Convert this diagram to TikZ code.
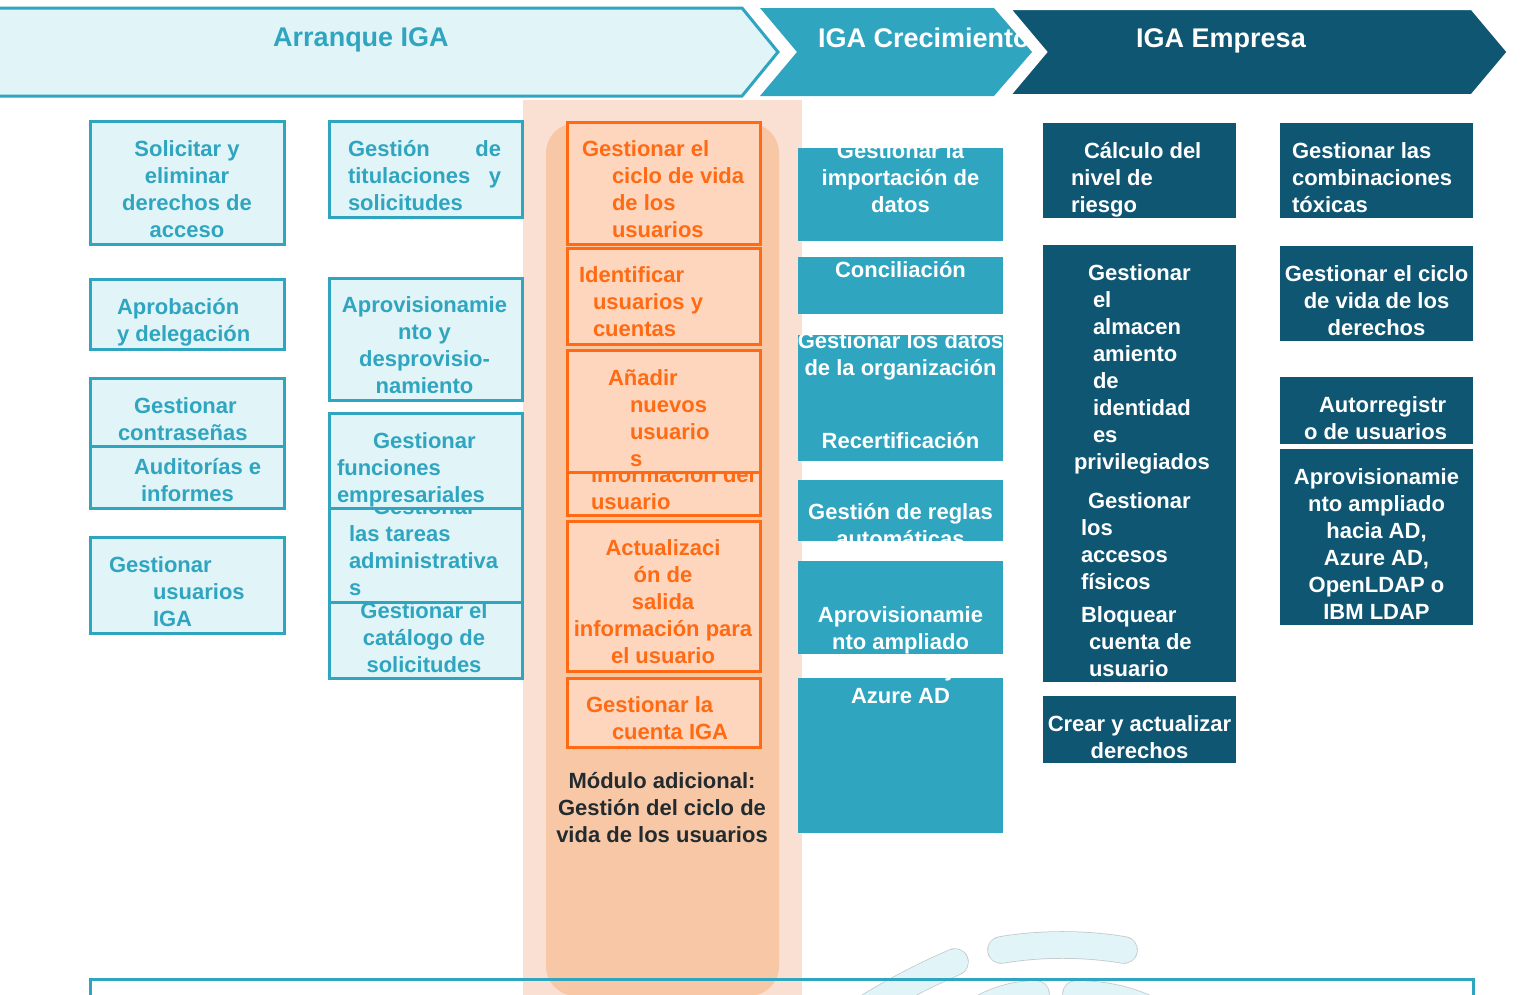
\documentclass[tikz,border=0pt]{standalone}
\usepackage{fontspec}
\setmainfont{Liberation Sans}
\definecolor{tealc}{HTML}{2FA5C0}
\definecolor{lightbg}{HTML}{E1F4F8}
\definecolor{darkc}{HTML}{0F5673}
\definecolor{orc}{HTML}{FF6A13}
\definecolor{orbox}{HTML}{FDD6BD}
\definecolor{orout}{HTML}{FADFD3}
\definecolor{orin}{HTML}{F8C8A6}
\definecolor{modtxt}{HTML}{232B2F}
\definecolor{decoedge}{HTML}{C3C7C9}
\tikzset{
  lbox/.style={fill=lightbg, draw=tealc, line width=3pt},
  obox/.style={fill=orbox, draw=orc, line width=3pt},
  tbox/.style={fill=tealc},
  dbox/.style={fill=darkc},
  txt/.style={inner sep=0pt, outer sep=0pt, font=\fontsize{22}{27}\selectfont\bfseries,
              execute at begin node={\rule{0pt}{21pt}}},
  ttl/.style={inner sep=0pt, font=\fontsize{27}{30}\selectfont\bfseries},
  ltxt/.style={txt, text=tealc},
  otxt/.style={txt, text=orc},
  wtxt/.style={txt, text=white},
  lt/.style={anchor=north west, align=left, yshift=-5pt},
  ltw/.style={anchor=north west, align=left},
  ct/.style={anchor=north, align=center, yshift=-5pt},
  ctone/.style={anchor=north, align=center},
}
\begin{document}
\begin{tikzpicture}[x=1pt, y=-1pt]
\clip (0,0) rectangle (1520,994);
\fill[white] (0,0) rectangle (1520,994);

% ---------- top banner ----------
\draw[fill=lightbg, draw=tealc, line width=3pt]
  (-5,8) -- (742,8) -- (778,52) -- (742,96) -- (-5,96) -- cycle;
\node[ttl, text=tealc, anchor=base] (tA) at (361,46.5) {Arranque IGA};
\fill[tealc] (760,8) -- (994,8) -- (1032,52) -- (994,96) -- (760,96) -- (797,52) -- cycle;
\node[ttl, text=white, anchor=base west] (tB) at (818,47.5) {IGA Crecimiento};
\draw[fill=darkc, draw=white, line width=4pt]
  (1008,8) -- (1472,8) -- (1509,52) -- (1472,96) -- (1008,96) -- (1045,52) -- cycle;
\node[ttl, text=white, anchor=base] (tC) at (1221,47) {IGA Empresa};

% ---------- orange module background ----------
\fill[orout] (523,100) rectangle (802,1000);
\fill[orin, rounded corners=30pt] (546,123) rectangle (779,996);

% ---------- column 1 ----------
\draw[lbox] (90,121) rectangle (284,244);
\node[ltxt, ct] (c1a) at (187,135.5) {Solicitar y\\eliminar\\derechos de\\acceso};
\draw[lbox] (90,279) rectangle (284,349);
\node[ltxt, lt] (c1b) at (117,293.5) {Aprobación\\y delegación};
\draw[lbox] (90,378) rectangle (284,446.5);
\node[ltxt, lt] (c1c) at (118,392.5) {\hspace*{16pt}Gestionar\\contraseñas};
\draw[lbox] (90,446.5) rectangle (284,508);
\node[ltxt, lt] (c1d) at (134,453.5) {Auditorías e\\\hspace*{7pt}informes};
\draw[lbox] (90,537) rectangle (284,633);
\node[ltxt, lt] (c1e) at (109,551.5) {Gestionar\\\hspace*{44pt}usuarios\\\hspace*{44pt}IGA};

% ---------- column 2 ----------
\draw[lbox] (329,121) rectangle (522,217);
\node[ltxt, ltw, text width=153pt] (c2a) at (348,135.5) {Gestión\hfill de\\titulaciones\hfill y\\solicitudes};
\draw[lbox] (329,278) rectangle (522,400.5);
\node[ltxt, ct] (c2b) at (424.5,291.5) {Aprovisionamie\\nto y\\desprovisio-\\namiento};
\draw[lbox] (329,413) rectangle (522,508);
\node[ltxt, lt] (c2c) at (337,427.5) {\hspace*{36pt}Gestionar\\funciones\\empresariales};
\draw[lbox] (329,508) rectangle (522,602);
\begin{scope}
  \clip (330.5,509.5) rectangle (520.5,600.5);
  \node[ltxt, lt] (c2d) at (349,493.5) {\hspace*{24pt}Gestionar\\las tareas\\administrativa\\s};
\end{scope}
\draw[lbox] (329,602) rectangle (522,678);
\begin{scope}
  \clip (330.5,603.5) rectangle (520.5,676.5);
  \node[ltxt, ct] (c2e) at (424,597.5) {Gestionar el\\catálogo de\\solicitudes};
\end{scope}

% ---------- orange boxes ----------
\draw[obox] (567,122) rectangle (760,244);
\node[otxt, lt] (o1) at (582,135.5) {Gestionar el\\\hspace*{30pt}ciclo de vida\\\hspace*{30pt}de los\\\hspace*{30pt}usuarios};
\draw[obox] (567,248) rectangle (760,344);
\node[otxt, lt] (o2) at (579,261.5) {Identificar\\\hspace*{14pt}usuarios y\\\hspace*{14pt}cuentas};
\draw[obox] (567,350) rectangle (760,472);
\node[otxt, lt] (o3) at (608,364.5) {Añadir\\\hspace*{22pt}nuevos\\\hspace*{22pt}usuario\\\hspace*{22pt}s};
\draw[obox] (567,472) rectangle (760,515);
\begin{scope}
  \clip (568.5,473.5) rectangle (758.5,513.5);
  \node[otxt, lt] (o4) at (591,461) {información del\\usuario};
\end{scope}
\draw[obox] (567,521) rectangle (760,671);
\node[otxt, ct] (o5) at (663,534.5) {Actualizaci\\ón de\\salida\\información para\\el usuario};
\draw[obox] (567,678) rectangle (760,747);
\node[otxt, lt] (o6) at (586,691.5) {Gestionar la\\\hspace*{26pt}cuenta IGA};
\node[txt, ct, text=modtxt] (mod) at (662,767.5) {Módulo adicional:\\Gestión del ciclo de\\vida de los usuarios};

% ---------- teal column ----------
\fill[tbox] (798,148) rectangle (1003,241);
\begin{scope}
  \clip (798,148) rectangle (1003,241);
  \node[wtxt, ct] (t1) at (900.5,137.5) {Gestionar la\\importación de\\datos};
\end{scope}
\fill[tbox] (798,257) rectangle (1003,314);
\node[wtxt, ctone] (t2) at (900.5,256.5) {Conciliación};
\fill[tbox] (798,335) rectangle (1003,461);
\begin{scope}
  \clip (798,335) rectangle (1003,461);
  \node[wtxt, ct] (t3) at (900.5,327.5) {Gestionar los datos\\de la organización};
\end{scope}
\node[wtxt, ctone] (t3b) at (900.5,427.5) {Recertificación};
\fill[tbox] (798,480) rectangle (1003,541);
\begin{scope}
  \clip (798,480) rectangle (1003,541);
  \node[wtxt, ct] (t4) at (900.5,498.5) {Gestión de reglas\\automáticas};
\end{scope}
\fill[tbox] (798,561) rectangle (1003,654);
\fill[tbox] (798,678) rectangle (1003,833);
\node[wtxt, ct] (t5) at (900.5,601.5) {Aprovisionamie\\nto ampliado\\hacia AD y\\Azure AD};

% ---------- dark column 1 ----------
\fill[dbox] (1043,123) rectangle (1236,218);
\node[wtxt, lt] (d1) at (1071,137.5) {\hspace*{13pt}Cálculo del\\nivel de\\riesgo};
\fill[dbox] (1043,245) rectangle (1236,682);
\node[wtxt, lt] (d2) at (1074,259.5) {\hspace*{14pt}Gestionar\\\hspace*{19pt}el\\\hspace*{19pt}almacen\\\hspace*{19pt}amiento\\\hspace*{19pt}de\\\hspace*{19pt}identidad\\\hspace*{19pt}es\\privilegiados};
\node[wtxt, lt] (d2b) at (1081,487.5) {\hspace*{7pt}Gestionar\\los\\accesos\\físicos};
\node[wtxt, lt] (d2c) at (1081,601.5) {Bloquear\\\hspace*{8pt}cuenta de\\\hspace*{8pt}usuario};
\fill[dbox] (1043,696) rectangle (1236,763);
\node[wtxt, ct] (d3) at (1139.5,710.5) {Crear y actualizar\\derechos};

% ---------- dark column 2 ----------
\fill[dbox] (1280,123) rectangle (1473,218);
\node[wtxt, lt] (e1) at (1292,137.5) {Gestionar las\\combinaciones\\tóxicas};
\fill[dbox] (1280,246) rectangle (1473,341);
\node[wtxt, ct] (e2) at (1376.5,260.5) {Gestionar el ciclo\\de vida de los\\derechos};
\fill[dbox] (1280,377) rectangle (1473,444);
\node[wtxt, lt] (e3) at (1304,391.5) {\hspace*{15pt}Autorregistr\\o de usuarios};
\fill[dbox] (1280,449) rectangle (1473,625);
\node[wtxt, ct] (e4) at (1376.5,463.5) {Aprovisionamie\\nto ampliado\\hacia AD,\\Azure AD,\\OpenLDAP o\\IBM LDAP};

% ---------- bottom decoration ----------
\foreach \w/\c in {27.5/decoedge, 26/lightbg} {
  \draw[\c, line width=\w pt, line cap=round] (1001,950) .. controls (1040,943.3) and (1085,943.3) .. (1124,950);
  \draw[\c, line width=\w pt, line cap=round] (955,962) .. controls (925,975) and (895,990) .. (860,1012);
  \draw[\c, line width=\w pt, line cap=round] (975,1012) .. controls (995,1000) and (1015,994) .. (1036,994);
  \draw[\c, line width=\w pt, line cap=round] (1076,994) .. controls (1100,994) and (1125,998) .. (1150,1010);
}
\draw[tealc, line width=3pt] (90,1000) -- (90,979) -- (1473,979) -- (1473,1000);
\end{tikzpicture}
\end{document}
